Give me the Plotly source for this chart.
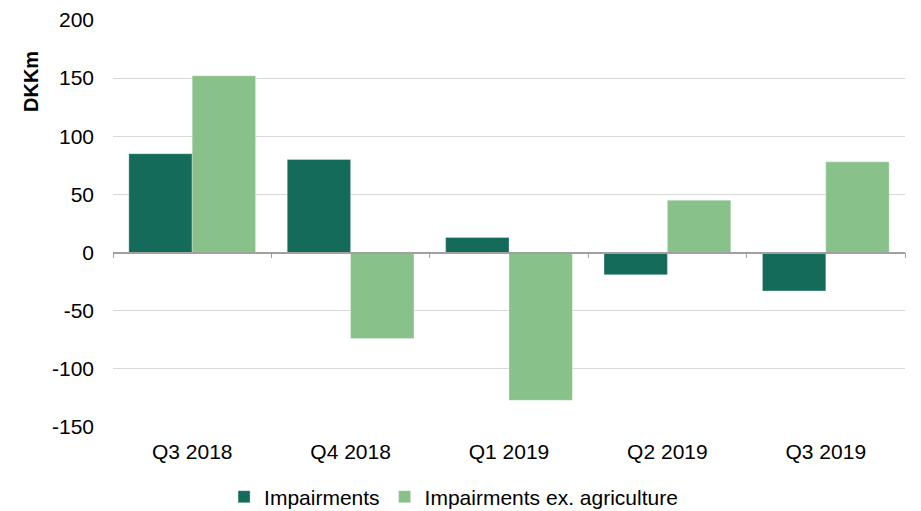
import plotly.graph_objects as go

quarters = ["Q3 2018", "Q4 2018", "Q1 2019", "Q2 2019", "Q3 2019"]
impairments = [85, 80, 13, -19, -33]
impairments_ex_agri = [152, -74, -127, 45, 78]
y_ticks = [-150, -100, -50, 0, 50, 100, 150, 200]
y_tick_labels = ["-150", "-100", "-50", "0", "50", "100", "150", "200"]

dark = "#156B5A"
light = "#88C189"
font_family = "Liberation Sans, Arial, sans-serif"

W, H = 921, 511
m_l, m_r, m_t, m_b = 113, 16, 20, 0
plot_bottom_px = 427
area_h = H - m_t - m_b
area_w = W - m_l - m_r
y_dom0 = (H - m_b - plot_bottom_px) / area_h

fig = go.Figure()
fig.add_trace(go.Bar(x=quarters, y=impairments, name="Impairments",
                     marker=dict(color=dark, line=dict(color="rgba(255,255,255,0.5)", width=0.6))))
fig.add_trace(go.Bar(x=quarters, y=impairments_ex_agri, name="Impairments ex. agriculture",
                     marker=dict(color=light, line=dict(color="rgba(255,255,255,0.5)", width=0.6))))
# invisible trace so the zero-line category axis is drawn
fig.add_trace(go.Scatter(x=quarters, y=[0]*len(quarters), xaxis="x2", yaxis="y",
                         mode="markers", marker=dict(opacity=0), showlegend=False, hoverinfo="skip"))

zero_frac = (0 - y_ticks[0]) / (y_ticks[-1] - y_ticks[0])
zero_pos = y_dom0 + zero_frac * (1 - y_dom0)

fig.update_layout(
    width=W, height=H,
    margin=dict(l=m_l, r=m_r, t=m_t, b=m_b, autoexpand=False),
    paper_bgcolor="white", plot_bgcolor="white",
    barmode="group", bargap=0.2, bargroupgap=0,
    font=dict(family=font_family, size=21, color="#000000"),
    xaxis=dict(type="category", categoryorder="array", categoryarray=quarters,
               showline=False, ticks="", showgrid=False, tickfont=dict(size=21),
               range=[-0.5, len(quarters) - 0.5], automargin=False,
               anchor="y", ticklabelstandoff=10),
    xaxis2=dict(type="category", overlaying="x", anchor="free", position=zero_pos,
                categoryorder="array", categoryarray=quarters,
                range=[-0.5, len(quarters) - 0.5],
                showline=True, linecolor="#A0A0A0", linewidth=1.5,
                ticks="outside", tickson="boundaries", ticklen=5, tickcolor="#A0A0A0",
                showticklabels=False, showgrid=False, side="bottom", automargin=False),
    yaxis=dict(range=[y_ticks[0], y_ticks[-1]], tickvals=y_ticks, ticktext=y_tick_labels,
               domain=[y_dom0, 1],
               showgrid=True, gridcolor="#D9D9D9", gridwidth=1.2,
               zeroline=False, showline=False, ticks="", ticklabelstandoff=18,
               tickfont=dict(size=21), automargin=False),
    legend=dict(orientation="h", x=0.43, xanchor="center", y=(H - m_b - 497) / area_h,
                yanchor="middle", font=dict(size=21), itemwidth=30, traceorder="normal"),
    annotations=[dict(text="<b>DKKm</b>", textangle=-90, xref="paper", yref="paper",
                      x=(31 - m_l) / area_w, y=(H - m_b - 82) / area_h,
                      xanchor="center", yanchor="middle", showarrow=False,
                      font=dict(size=20))],
)

fig.write_html("out.html", config={"displayModeBar": False},
               post_script="document.body.style.margin='0';document.body.style.overflow='hidden';")
